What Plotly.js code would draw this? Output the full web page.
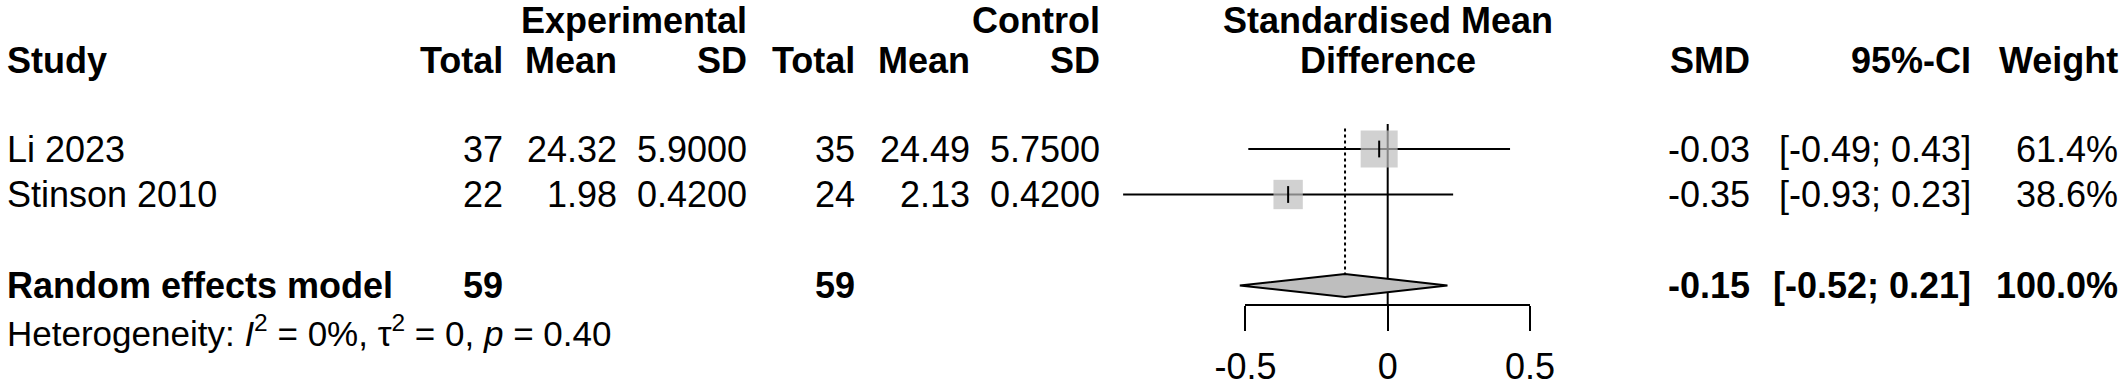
<!DOCTYPE html>
<html>
<head>
<meta charset="utf-8">
<script src="https://cdn.plot.ly/plotly-3.0.1.min.js"></script>
<style>html,body{margin:0;padding:0;background:#fff;}#chart{width:2128px;height:392px;}</style>
</head>
<body>
<div id="chart"></div>
<script>
// ---- data ----
const studies = ['Li 2023', 'Stinson 2010'];
const expTotal = [37, 22];
const expMean = [24.32, 1.98];
const expSD = [5.9, 0.42];
const ctrlTotal = [35, 24];
const ctrlMean = [24.49, 2.13];
const ctrlSD = [5.75, 0.42];
const smd = [-0.03, -0.35];
const ciLow = [-0.49, -0.93];
const ciHigh = [0.43, 0.23];
const weight = [61.4, 38.6];
const pooledLabel = 'Random effects model';
const pooledExpTotal = 59;
const pooledCtrlTotal = 59;
const pooledSMD = -0.15;
const pooledLow = -0.52;
const pooledHigh = 0.21;
const pooledWeight = 100.0;
const hetI2 = '0%';
const hetTau2 = '0';
const hetP = '0.40';
const axisTicks = [-0.5, 0, 0.5];
const axisTickText = ['-0.5', '0', '0.5'];

// ---- layout helpers ----
const W = 2128, H = 392;
const FONT = 'Liberation Sans, Arial, Helvetica, sans-serif';
const rowTop = 149, rowH = 45.5;           // pixel centre of first row, row height
const pixToRow = p => (p - rowTop) / rowH;
const zeroPx = 1387.7, unitPx = 284.5;      // forest scale
const pxX = p => p / W;
const studyRows = studies.map((s, i) => i);
const pooledRow = 3, hetRow = 4;
const head1 = pixToRow(20.5), head2 = pixToRow(60);
const axisPix = 305;
const axisRow = pixToRow(axisPix);
const diaHalf = 11.5 / rowH;

const fmt = (v, d) => v.toFixed(d);
const ciText = (lo, hi) => '[' + fmt(lo, 2) + '; ' + fmt(hi, 2) + ']';

const annotations = [];
function txt(text, xPix, row, anchor, size, bold) {
  annotations.push({
    text: bold ? '<b>' + text + '</b>' : text,
    x: pxX(xPix), xref: 'paper', xanchor: anchor,
    y: row, yref: 'y', yanchor: 'middle',
    showarrow: false,
    font: {family: FONT, size: size || 36, color: '#000'}
  });
}
// column right edges (pixels)
const col = {study: 5, eT: 505, eM: 619, eS: 749, cT: 857, cM: 972, cS: 1102, smd: 1752, ci: 1973, w: 2120};

// headers
txt('Experimental', col.eS, head1, 'right', 36, true);
txt('Control', col.cS, head1, 'right', 36, true);
txt('Standardised Mean', zeroPx, head1, 'center', 36, true);
txt('Study', col.study, head2, 'left', 36, true);
txt('Total', col.eT, head2, 'right', 36, true);
txt('Mean', col.eM, head2, 'right', 36, true);
txt('SD', col.eS, head2, 'right', 36, true);
txt('Total', col.cT, head2, 'right', 36, true);
txt('Mean', col.cM, head2, 'right', 36, true);
txt('SD', col.cS, head2, 'right', 36, true);
txt('Difference', zeroPx, head2, 'center', 36, true);
txt('SMD', col.smd, head2, 'right', 36, true);
txt('95%-CI', col.ci, head2, 'right', 36, true);
txt('Weight', col.w, head2, 'right', 36, true);

// study rows
studies.forEach((s, i) => {
  const r = studyRows[i];
  txt(s, col.study, r, 'left');
  txt(String(expTotal[i]), col.eT, r, 'right');
  txt(fmt(expMean[i], 2), col.eM, r, 'right');
  txt(fmt(expSD[i], 4), col.eS, r, 'right');
  txt(String(ctrlTotal[i]), col.cT, r, 'right');
  txt(fmt(ctrlMean[i], 2), col.cM, r, 'right');
  txt(fmt(ctrlSD[i], 4), col.cS, r, 'right');
  txt(fmt(smd[i], 2), col.smd, r, 'right');
  txt(ciText(ciLow[i], ciHigh[i]), col.ci, r, 'right');
  txt(fmt(weight[i], 1) + '%', col.w, r, 'right');
});

// pooled row
txt(pooledLabel, col.study, pooledRow, 'left', 36, true);
txt(String(pooledExpTotal), col.eT, pooledRow, 'right', 36, true);
txt(String(pooledCtrlTotal), col.cT, pooledRow, 'right', 36, true);
txt(fmt(pooledSMD, 2), col.smd, pooledRow, 'right', 36, true);
txt(ciText(pooledLow, pooledHigh), col.ci, pooledRow, 'right', 36, true);
txt(fmt(pooledWeight, 1) + '%', col.w, pooledRow, 'right', 36, true);

// heterogeneity
txt('Heterogeneity: <i>I</i><sup>2</sup> = ' + hetI2 + ', \u03c4<sup>2</sup> = ' + hetTau2 + ', <i>p</i> = ' + hetP,
    col.study, hetRow, 'left', 35, false);

// ---- traces ----
const traces = [];
// reference line at 0 (solid)
traces.push({x: [0, 0], y: [-0.55, axisRow], mode: 'lines', line: {color: '#000', width: 2}, hoverinfo: 'skip'});
// CI lines
const ciX = [], ciY = [];
studies.forEach((s, i) => { ciX.push(ciLow[i], ciHigh[i], null); ciY.push(studyRows[i], studyRows[i], null); });
traces.push({x: ciX, y: ciY, mode: 'lines', line: {color: '#000', width: 2}, hoverinfo: 'skip'});
// squares (area ~ weight)
const k = 37 / Math.sqrt(weight[0]);
traces.push({x: smd, y: studyRows, mode: 'markers',
  marker: {symbol: 'square', size: weight.map(w => k * Math.sqrt(w)), color: '#BEBEBE', line: {width: 0}}, hoverinfo: 'skip'});
// point estimate tick
traces.push({x: smd, y: studyRows, mode: 'markers',
  marker: {symbol: 'line-ns', size: 12, line: {color: '#000', width: 2}}, hoverinfo: 'skip'});
// dotted pooled line
traces.push({x: [pooledSMD, pooledSMD], y: [-0.45, pooledRow - diaHalf], mode: 'lines',
  line: {color: '#000', width: 2, dash: 'dot'}, hoverinfo: 'skip'});
// diamond
traces.push({x: [pooledLow, pooledSMD, pooledHigh, pooledSMD, pooledLow],
  y: [pooledRow, pooledRow - diaHalf, pooledRow, pooledRow + diaHalf, pooledRow],
  mode: 'lines', fill: 'toself', fillcolor: '#BEBEBE', line: {color: '#000', width: 2}, hoverinfo: 'skip'});
// trace on the visible forest axis
traces.push({x: axisTicks, y: axisTicks.map(() => axisRow), xaxis: 'x2', yaxis: 'y', mode: 'markers',
  marker: {size: 0.1, color: 'rgba(0,0,0,0)'}, hoverinfo: 'skip'});

const layout = {
  width: W, height: H,
  margin: {l: 0, r: 0, t: 0, b: 0, pad: 0},
  paper_bgcolor: '#fff', plot_bgcolor: 'rgba(0,0,0,0)',
  showlegend: false,
  font: {family: FONT, color: '#000'},
  xaxis: {domain: [0, 1], range: [-zeroPx / unitPx, (W - zeroPx) / unitPx], visible: false, fixedrange: true},
  yaxis: {domain: [0, 1], range: [pixToRow(H), pixToRow(0)], visible: false, fixedrange: true},
  xaxis2: {
    domain: [pxX(zeroPx - 0.5 * unitPx), pxX(zeroPx + 0.5 * unitPx)],
    range: [-0.5, 0.5], anchor: 'free', position: (H - axisPix) / H,
    showline: true, linewidth: 2, linecolor: '#000',
    ticks: 'outside', ticklen: 25, tickwidth: 2, tickcolor: '#000',
    tickvals: axisTicks, ticktext: axisTickText, ticklabelstandoff: 5,
    tickfont: {family: FONT, size: 36, color: '#000'},
    showgrid: false, zeroline: false, fixedrange: true
  },
  annotations: annotations
};

Plotly.newPlot('chart', traces, layout, {displayModeBar: false, staticPlot: true});
</script>
</body>
</html>
